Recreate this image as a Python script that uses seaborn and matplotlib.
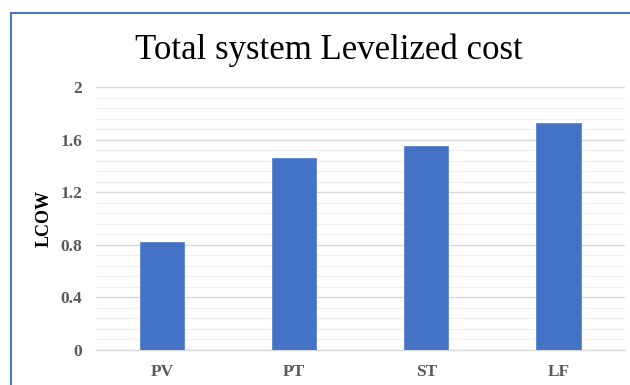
import matplotlib
matplotlib.use("Agg")
import matplotlib.pyplot as plt
from matplotlib.patches import Rectangle
from matplotlib.ticker import MultipleLocator
import seaborn as sns
import pandas as pd

# Levelized cost of water per technology
technologies = ["PV", "PT", "ST", "LF"]
lcow = [0.82, 1.46, 1.55, 1.73]
y_ticks = [0, 0.4, 0.8, 1.2, 1.6, 2]
y_tick_labels = ["0", "0.4", "0.8", "1.2", "1.6", "2"]

df = pd.DataFrame({"Technology": technologies, "LCOW": lcow})

sns.set_theme(style="white")
plt.rcParams["font.family"] = ["Liberation Serif", "DejaVu Serif"]

fig = plt.figure(figsize=(6.3, 3.85), dpi=100)
fig.patch.set_facecolor("white")
ax = fig.add_axes([96 / 630, 1 - 350 / 385, (624.5 - 96) / 630, (350 - 87) / 385])

sns.barplot(data=df, x="Technology", y="LCOW", color="#4472C4", width=0.335,
            saturation=1, edgecolor="#5b85d0", linewidth=0.6, ax=ax, zorder=3)

ax.set_xlim(-0.5, 3.5)
ax.set_ylim(0, 2)
ax.set_yticks(y_ticks)
ax.set_yticklabels(y_tick_labels)
ax.yaxis.set_minor_locator(MultipleLocator(0.08))
ax.grid(axis="y", which="major", color="#d9d9d9", linewidth=1.0, zorder=0)
ax.grid(axis="y", which="minor", color="#f0f0f0", linewidth=1.0, zorder=0)
ax.set_axisbelow(True)
for side in ["top", "right", "left"]:
    ax.spines[side].set_visible(False)
ax.spines["bottom"].set_color("#d9d9d9")
ax.spines["bottom"].set_linewidth(1.0)

ax.tick_params(axis="both", which="both", length=0)
ax.tick_params(axis="y", pad=10)
ax.tick_params(axis="x", pad=10)
for lbl in ax.get_yticklabels() + ax.get_xticklabels():
    lbl.set_fontweight("bold")
    lbl.set_color("#595959")
    lbl.set_fontsize(12.5)

ax.set_xlabel("")
ax.set_ylabel("LCOW", fontsize=13, fontweight="bold", color="black")
ax.yaxis.set_label_coords((44 - 96) / 528.5, 0.5)
ax.yaxis.label.set_va("center")

fig.text(0.522, 1 - 59 / 385, "Total system Levelized cost", ha="center", va="baseline",
         fontsize=25, color="black")

# chart frame
fig.patches.append(Rectangle((11 / 630, -0.1), 1.2, 1 - 13 / 385 + 0.1,
                             transform=fig.transFigure, fill=False,
                             edgecolor="#4a76c6", linewidth=1.5))

fig.savefig("out.png", dpi=100, facecolor="white")
